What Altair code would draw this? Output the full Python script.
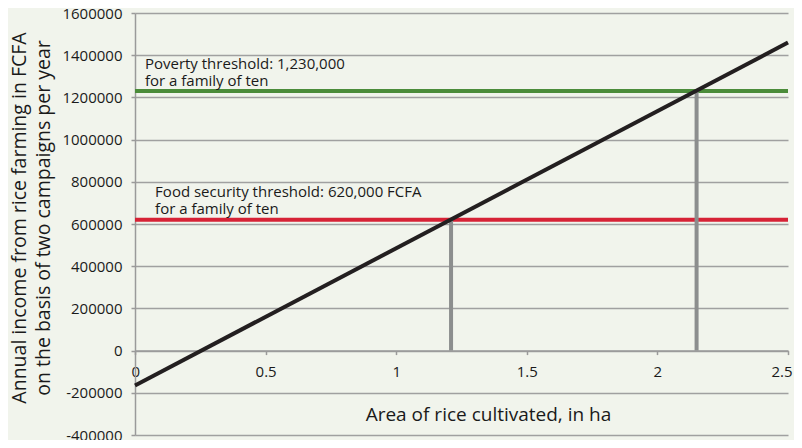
import altair as alt
import pandas as pd

# Income line (area in ha -> annual income FCFA)
area_line = [0.0, 2.5]
income_line = [-165000, 1460000]

# Thresholds
threshold_names = ["Food security", "Poverty"]
threshold_values = [620000, 1230000]
threshold_colors = ["#d62236", "#4b8c3a"]
threshold_area = [1.21, 2.15]
label_x = [0.077, 0.038]
label_text = [
    "Food security threshold: 620,000 FCFA\nfor a family of ten",
    "Poverty threshold: 1,230,000\nfor a family of ten",
]

y_ticks = list(range(-400000, 1600001, 200000))
x_ticks = [0, 0.5, 1, 1.5, 2, 2.5]

FONT = "Open Sans"
W, H = 653, 422

line_df = pd.DataFrame({"area": area_line, "income": income_line})
thr_df = pd.DataFrame({
    "name": threshold_names,
    "value": threshold_values,
    "color": threshold_colors,
    "area": threshold_area,
    "zero": [0, 0],
    "lx": label_x,
    "label": label_text,
})

xs = alt.Scale(domain=[0, 2.5], nice=False, zero=False)
ys = alt.Scale(domain=[-400000, 1600000], nice=False)

base_axes = alt.Chart(line_df).mark_line(opacity=0).encode(
    x=alt.X("area:Q", scale=xs, title="Area of rice cultivated, in ha",
            axis=alt.Axis(values=x_ticks, labelExpr="datum.value + ''", grid=False,
                          offset=-84.4, domainColor="#9a9a9a", domainWidth=1.5,
                          tickColor="#9a9a9a", tickWidth=1.5, tickSize=4,
                          labelPadding=10, labelFontSize=15, labelColor="#1a1a1a",
                          labelFont=FONT, titleFont=FONT, titleFontSize=19,
                          titleFontWeight="normal", titleColor="#1a1a1a",
                          titleX=353, titleY=70, titleAlign="center",
                          titleAnchor="start", titleBaseline="alphabetic",
                          labelFlush=True, labelFlushOffset=4)),
    y=alt.Y("income:Q", scale=ys,
            title=["Annual income from rice farming in FCFA",
                   "on the basis of two campaigns per year"],
            axis=alt.Axis(values=y_ticks, labelExpr="datum.value + ''",
                          grid=True, gridColor="#a0a0a0", gridWidth=1.5,
                          domainColor="#9a9a9a", domainWidth=1.5,
                          tickColor="#9a9a9a", tickWidth=1.5, tickSize=4,
                          labelPadding=9, labelFontSize=15, labelColor="#1a1a1a",
                          labelFont=FONT, titleFont=FONT, titleFontSize=19.5,
                          titleFontWeight="normal", titleColor="#1a1a1a",
                          titleLineHeight=24, titleX=-110, titleY=204.5,
                          titleAngle=-90, titleAlign="center", titleAnchor="start",
                          titleBaseline="alphabetic")),
)

thr_rules = alt.Chart(thr_df).mark_rule(strokeWidth=4).encode(
    y=alt.Y("value:Q", scale=ys),
    color=alt.Color("color:N", scale=None),
)

drops = alt.Chart(thr_df).mark_rule(strokeWidth=4, color="#8c8e8e").encode(
    x=alt.X("area:Q", scale=xs),
    y=alt.Y("zero:Q", scale=ys),
    y2="value:Q",
)

income = alt.Chart(line_df).mark_line(color="#231f20", strokeWidth=4).encode(
    x=alt.X("area:Q", scale=xs),
    y=alt.Y("income:Q", scale=ys),
)

labels = alt.Chart(thr_df).mark_text(
    align="left", baseline="alphabetic", lineBreak="\n", font=FONT,
    fontSize=15, lineHeight=17, color="#1a1a1a", dy=-22.5,
).encode(
    x=alt.X("lx:Q", scale=xs),
    y=alt.Y("value:Q", scale=ys),
    text="label:N",
)

chart = alt.layer(base_axes, thr_rules, drops, income, labels).properties(
    width=W, height=H,
    background="#f1f4ec",
    padding={"left": 127, "top": 5, "right": 6, "bottom": 5},
    autosize=alt.AutoSizeParams(type="none"),
).configure_view(stroke=None)

chart.save("out.html", embed_options={"renderer": "svg", "actions": False})
